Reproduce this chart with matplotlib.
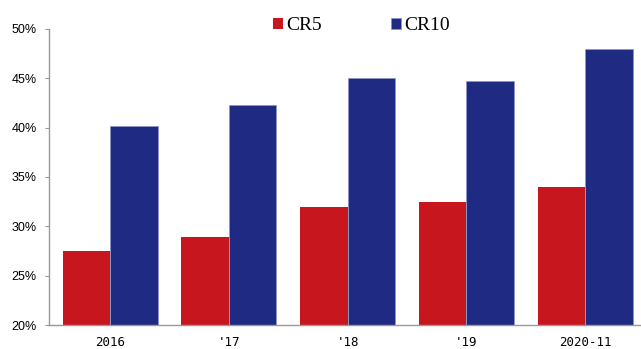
import matplotlib.pyplot as plt
import numpy as np
from matplotlib.ticker import FuncFormatter

categories = ["2016", "'17", "'18", "'19", "2020-11"]
cr5 = [27.5, 28.9, 32.0, 32.5, 34.0]
cr10 = [40.2, 42.3, 45.0, 44.7, 48.0]

red = '#C8161E'
blue = '#1F2A82'

fig = plt.figure(figsize=(6.41, 3.49), dpi=100)
ax = fig.add_axes([49 / 641, 24 / 349, 1 - 49 / 641, 296 / 349])

x = np.arange(len(categories))
w = 0.4
ax.bar(x - w / 2, cr5, width=w, color=red, label='CR5', zorder=2)
ax.bar(x + w / 2, cr10, width=w, color=blue, edgecolor='#8C93C8',
       linewidth=0.5, label='CR10', zorder=2)

ax.set_ylim(20, 50)
ax.set_xlim(-0.514, 4.47)
ax.set_yticks(np.arange(20, 51, 5))
ax.yaxis.set_major_formatter(FuncFormatter(lambda v, p: f"{v:.0f}%"))
ax.set_xticks(x)
ax.set_xticklabels(categories)

for s in ['top', 'right']:
    ax.spines[s].set_visible(False)
for s in ['left', 'bottom']:
    ax.spines[s].set_color('#999999')
    ax.spines[s].set_linewidth(1.0)

ax.tick_params(axis='y', length=3, color='#999999', labelsize=9, pad=6,
               labelfontfamily='Liberation Sans')
ax.tick_params(axis='x', length=0, labelsize=9, pad=8,
               labelfontfamily='DejaVu Sans Mono')

# legend across the top, square markers
leg = fig.legend(loc='upper left', bbox_to_anchor=(255 / 641, 1.0), ncol=2,
                 frameon=False, handlelength=0.55, handleheight=0.55,
                 handletextpad=0.15, columnspacing=3.55,
                 prop={'family': 'Liberation Serif', 'size': 14})

fig.savefig('out.png', dpi=100)
